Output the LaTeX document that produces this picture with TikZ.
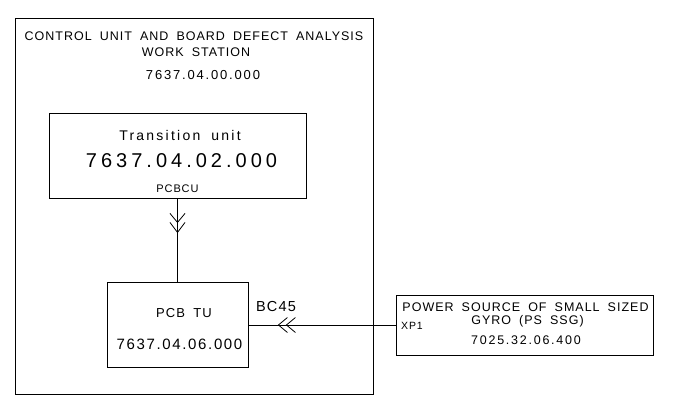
\documentclass[tikz,border=0pt]{standalone}
\usepackage{fontspec}
\setmainfont{Liberation Sans}[LetterSpace=8, WordSpace=1.8]

\begin{document}
\begin{tikzpicture}[x=1pt, y=-1pt,
        block/.style={rectangle, draw, line width=0.9pt, inner sep=0pt},
        txt/.style={inner sep=0pt, font=\fontsize{#1}{#1}\selectfont},
        num/.style={inner sep=0pt, font=\fontsize{#1}{#1}\selectfont\addfontfeature{LetterSpace=14}},
        wire/.style={line width=0.8pt}
    ]
        \useasboundingbox (0,0) rectangle (679,418);

        % Work station frame and its blocks
        \node[block, minimum width=358pt, minimum height=376pt] (station) at (194,206) {};
        \node[block, minimum width=257pt, minimum height=85pt] (transunit) at (177.5,155.5) {};
        \node[block, minimum width=141pt, minimum height=85pt] (pcbtu) at (177.5,325) {};
        \node[block, minimum width=257pt, minimum height=60pt] (psssg) at (524.5,325) {};

        % Station title
        \node[txt=12.5] (title1) at (194,36) {CONTROL UNIT AND BOARD DEFECT ANALYSIS};
        \node[txt=12.5] (title2) at (196,52) {WORK STATION};
        \node[num=13] (title3) at (203,75) {7637.04.00.000};

        % Transition unit
        \node[txt=14, font=\fontsize{14}{14}\selectfont\addfontfeature{LetterSpace=16}] (tulabel) at (180,135) {Transition unit};
        \node[num=20, font=\fontsize{20}{20}\selectfont\addfontfeature{LetterSpace=20}] (tucode) at (181.5,161) {7637.04.02.000};
        \node[txt=11] (tuname) at (177.5,189) {PCBCU};

        % PCB TU
        \node[txt=13] (pcblabel) at (184,313) {PCB TU};
        \node[num=15, font=\fontsize{15}{15}\selectfont\addfontfeature{LetterSpace=11}] (pcbcode) at (179.5,344) {7637.04.06.000};
        \node[txt=14.5] (bc45) at (276,307) {BC45};

        % Power source
        \node[txt=12.5] (pslabel1) at (525.5,307.5) {POWER SOURCE OF SMALL SIZED};
        \node[txt=12.5] (pslabel2) at (527.5,321) {GYRO (PS SSG)};
        \node[num=12.5] (pscode) at (526,340) {7025.32.06.400};
        \node[txt=10.5] (xp1) at (412,325.5) {XP1};

        % Links with double chevrons
        \draw[wire] (transunit.south) -- (pcbtu.north);
        \draw[wire] (transunit.south) ++(-7.5,15) -- ++(7.5,9) -- ++(7.5,-9);
        \draw[wire] (transunit.south) ++(-7.5,24) -- ++(7.5,10) -- ++(7.5,-10);

        \draw[wire] (pcbtu.east) -- (psssg.west);
        \draw[wire] (pcbtu.east) ++(39,-7.5) -- ++(-9,7.5) -- ++(9,7.5);
        \draw[wire] (pcbtu.east) ++(47,-7.5) -- ++(-9,7.5) -- ++(9,7.5);

    \end{tikzpicture}
\end{document}
